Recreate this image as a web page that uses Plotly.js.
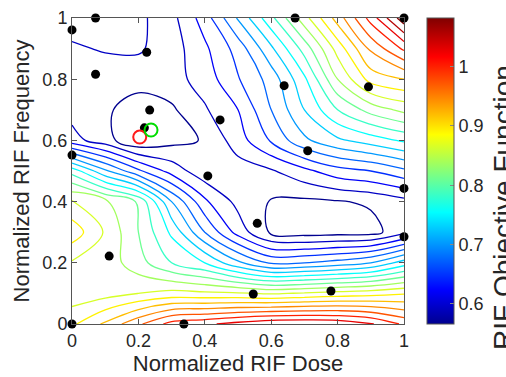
<!DOCTYPE html>
<html>
<head>
<meta charset="utf-8">
<script src="https://cdn.plot.ly/plotly-3.0.1.min.js"></script>
<style>
  html, body { margin: 0; padding: 0; background: #fff; overflow: hidden; }
  #chart { width: 506px; height: 377px; }
</style>
</head>
<body>
<div id="chart"></div>
<script>
// Surface grid: normalized dose (columns) x normalized frequency (rows)
const doseGrid = [0, 0.1, 0.2, 0.3, 0.4, 0.5, 0.6, 0.7, 0.8, 0.9, 1.0];
const freqGrid = [0, 0.1, 0.2, 0.3, 0.4, 0.5, 0.6, 0.7, 0.8, 0.9, 1.0];

// Objective values, one row per frequency (bottom row first)
const objFreq00 = [0.885, 0.920, 0.960, 1.000, 1.010, 1.024, 1.036, 1.038, 1.034, 1.018, 0.985];
const objFreq01 = [0.850, 0.855, 0.865, 0.873, 0.870, 0.868, 0.862, 0.868, 0.875, 0.880, 0.888];
const objFreq02 = [0.862, 0.855, 0.825, 0.790, 0.765, 0.720, 0.685, 0.690, 0.700, 0.715, 0.752];
const objFreq03 = [0.905, 0.862, 0.815, 0.760, 0.690, 0.630, 0.585, 0.578, 0.580, 0.580, 0.608];
const objFreq04 = [0.868, 0.845, 0.812, 0.715, 0.645, 0.607, 0.588, 0.585, 0.588, 0.594, 0.606];
const objFreq05 = [0.780, 0.720, 0.670, 0.630, 0.598, 0.603, 0.612, 0.633, 0.655, 0.665, 0.684];
const objFreq06 = [0.625, 0.600, 0.568, 0.582, 0.592, 0.628, 0.668, 0.710, 0.735, 0.752, 0.769];
const objFreq07 = [0.605, 0.595, 0.575, 0.586, 0.612, 0.640, 0.690, 0.740, 0.790, 0.825, 0.847];
const objFreq08 = [0.605, 0.603, 0.602, 0.605, 0.626, 0.663, 0.700, 0.760, 0.840, 0.900, 0.915];
const objFreq09 = [0.612, 0.617, 0.618, 0.603, 0.635, 0.675, 0.735, 0.800, 0.875, 0.945, 0.995];
const objFreq10 = [0.625, 0.622, 0.618, 0.607, 0.652, 0.718, 0.783, 0.855, 0.926, 1.000, 1.082];

// Sampled designs
const sampleDose = [0, 0.071, 0.225, 0.071, 0.234, 0.218, 0.446, 0, 0.672, 1, 0.639,
                    0.893, 0.71, 0.409, 0.112, 0, 0.337, 0.558, 1, 1, 0.546, 0.78];
const sampleFreq = [0.961, 1, 0.888, 0.816, 0.699, 0.641, 0.667, 0.552, 1, 1, 0.779,
                    0.775, 0.566, 0.484, 0.222, 0, 0, 0.329, 0.443, 0.285, 0.098, 0.108];

// Highlighted optima
const redDose = [0.204];
const redFreq = [0.611];
const greenDose = [0.238];
const greenFreq = [0.634];

// Colour limits and contour levels
const objLimits = [0.566, 1.082];
const levelStart = 0.59;
const levelEnd = 1.065;
const levelStep = 0.025;

// Axis ticks
const axisTicks = [0, 0.2, 0.4, 0.6, 0.8, 1];
const axisTickText = ['0', '0.2', '0.4', '0.6', '0.8', '1'];
const barTicks = [0.6, 0.7, 0.8, 0.9, 1];
const barTickText = ['0.6', '0.7', '0.8', '0.9', '1'];

const objective = [objFreq00, objFreq01, objFreq02, objFreq03, objFreq04, objFreq05,
                   objFreq06, objFreq07, objFreq08, objFreq09, objFreq10];

// MATLAB-style jet
const jet = [
  [0, 'rgb(0,0,143)'],
  [0.111, 'rgb(0,0,255)'],
  [0.365, 'rgb(0,255,255)'],
  [0.619, 'rgb(255,255,0)'],
  [0.873, 'rgb(255,0,0)'],
  [1, 'rgb(128,0,0)']
];

const textColor = '#262626';
const axisColor = '#555555';
const fontFamily = '"Liberation Sans", Arial, Helvetica, sans-serif';

const contourTrace = {
  type: 'contour',
  x: doseGrid,
  y: freqGrid,
  z: objective,
  zmin: objLimits[0],
  zmax: objLimits[1],
  colorscale: jet,
  showscale: false,
  contours: { coloring: 'lines', start: levelStart, end: levelEnd, size: levelStep, showlabels: false },
  line: { width: 1.3, smoothing: 1 },
  hoverinfo: 'skip'
};

const barTrace = {
  type: 'scatter',
  mode: 'markers',
  x: [null, null],
  y: [null, null],
  hoverinfo: 'skip',
  showlegend: false,
  marker: {
    color: objLimits,
    cmin: objLimits[0],
    cmax: objLimits[1],
    colorscale: jet,
    showscale: true,
    size: 1,
    colorbar: {
      x: (427 - 72) / 332,
      xanchor: 'left',
      y: 0.5,
      yanchor: 'middle',
      len: 1,
      lenmode: 'fraction',
      thickness: 27,
      thicknessmode: 'pixels',
      xpad: 0,
      ypad: 0,
      outlinewidth: 1,
      outlinecolor: axisColor,
      tickvals: barTicks,
      ticktext: barTickText,
      ticks: 'inside',
      ticklen: 4,
      tickcolor: '#888888',
      tickfont: { size: 18, color: textColor, family: fontFamily }
    }
  }
};

const sampleTrace = {
  type: 'scatter',
  mode: 'markers',
  x: sampleDose,
  y: sampleFreq,
  cliponaxis: false,
  marker: { size: 9, color: '#000000' },
  hoverinfo: 'skip'
};

const redTrace = {
  type: 'scatter',
  mode: 'markers',
  x: redDose,
  y: redFreq,
  cliponaxis: false,
  marker: { size: 13, symbol: 'circle-open', color: '#ff1a1a', line: { width: 2, color: '#ff1a1a' } },
  hoverinfo: 'skip'
};

const greenTrace = {
  type: 'scatter',
  mode: 'markers',
  x: greenDose,
  y: greenFreq,
  cliponaxis: false,
  marker: { size: 13, symbol: 'circle-open', color: '#00dd00', line: { width: 2, color: '#00dd00' } },
  hoverinfo: 'skip'
};

const axisBase = {
  range: [0, 1],
  tickvals: axisTicks,
  ticktext: axisTickText,
  ticks: 'inside',
  ticklen: 5,
  tickcolor: axisColor,
  showline: true,
  linecolor: axisColor,
  linewidth: 1,
  mirror: 'ticks',
  showgrid: false,
  zeroline: false,
  automargin: false,
  tickfont: { size: 18, color: textColor, family: fontFamily }
};

const layout = {
  width: 506,
  height: 377,
  margin: { l: 72, r: 102, t: 18, b: 53 },
  paper_bgcolor: '#ffffff',
  plot_bgcolor: '#ffffff',
  showlegend: false,
  font: { family: fontFamily, color: textColor },
  xaxis: Object.assign({}, axisBase, {
    title: { text: 'Normalized RIF Dose', font: { size: 22, color: textColor, family: fontFamily }, standoff: 4 }
  }),
  yaxis: Object.assign({}, axisBase, {
    title: { text: 'Normalized RIF Frequency', font: { size: 22, color: textColor, family: fontFamily }, standoff: 6 }
  }),
  annotations: [{
    text: 'RIF Objective Function',
    xref: 'paper', yref: 'paper',
    x: (503 - 72) / 332,
    y: (324 - 208) / 306,
    xanchor: 'center', yanchor: 'middle',
    textangle: -90,
    showarrow: false,
    font: { size: 28, color: textColor, family: fontFamily }
  }]
};

Plotly.newPlot('chart', [contourTrace, barTrace, sampleTrace, redTrace, greenTrace], layout,
  { staticPlot: true, displayModeBar: false });
</script>
</body>
</html>
